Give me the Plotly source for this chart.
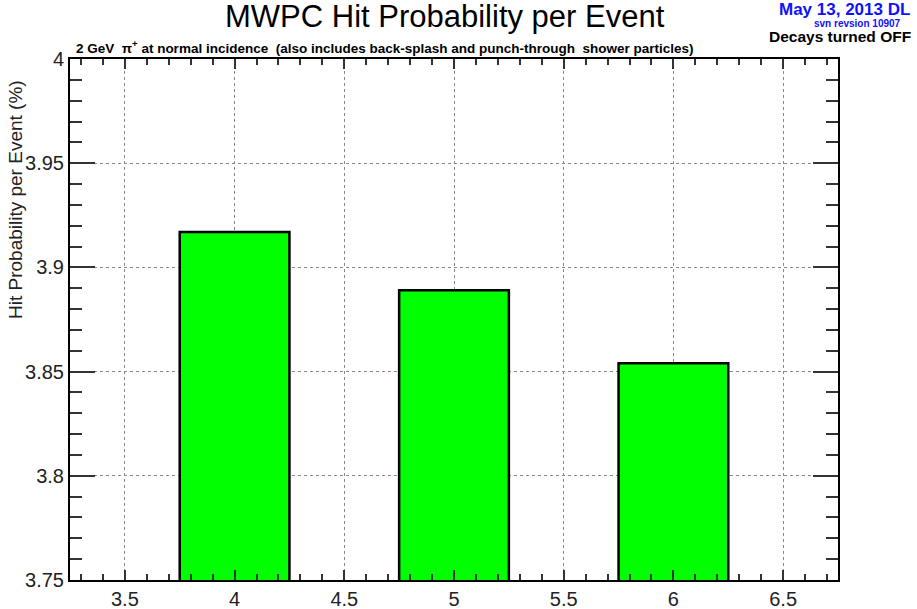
import plotly.graph_objects as go

# Hit probability per event for each configuration
x_vals = [4, 5, 6]
hit_prob = [3.917, 3.889, 3.854]

x_ticks = [3.5, 4, 4.5, 5, 5.5, 6, 6.5]
x_ticktext = ["3.5", "4", "4.5", "5", "5.5", "6", "6.5"]
y_ticks = [3.75, 3.8, 3.85, 3.9, 3.95, 4.0]
y_ticktext = ["3.75", "3.8", "3.85", "3.9", "3.95", "4"]

FONT = "Liberation Sans, Arial, sans-serif"
W, H = 917, 609
L, R, T, B = 70, 79, 59, 29
PW, PH = W - L - R, H - T - B


def px(xp, yp):
    """Convert figure pixel position into paper coordinates."""
    return (xp - L) / PW, 1 - (yp - T) / PH


fig = go.Figure()
fig.add_trace(go.Bar(
    x=x_vals, y=hit_prob, width=0.5,
    marker=dict(color="#00ff00", line=dict(color="black", width=2.5)),
    hoverinfo="x+y",
))

tick_font = dict(size=20, color="#222", family=FONT)

fig.update_layout(
    width=W, height=H,
    margin=dict(l=L, r=R, t=T, b=B, autoexpand=False),
    paper_bgcolor="white", plot_bgcolor="white",
    showlegend=False,
    font=dict(family=FONT, color="#222"),
    xaxis=dict(
        range=[3.25, 6.75], tickvals=x_ticks, ticktext=x_ticktext,
        ticks="inside", ticklen=10, tickwidth=1.5, tickcolor="#333",
        minor=dict(dtick=0.1, tick0=3.5, ticks="inside", ticklen=6, tickwidth=1.5, tickcolor="#333", showgrid=False),
        showline=True, linecolor="black", linewidth=2, mirror="allticks",
        showgrid=True, gridcolor="#888", griddash="dot", gridwidth=1,
        zeroline=False, tickfont=tick_font, automargin=False,
    ),
    yaxis=dict(
        range=[3.75, 4.0], tickvals=y_ticks, ticktext=y_ticktext,
        ticks="inside", ticklen=25, tickwidth=1.5, tickcolor="#333",
        minor=dict(dtick=0.01, tick0=3.75, ticks="inside", ticklen=12, tickwidth=1.5, tickcolor="#333", showgrid=False),
        showline=True, linecolor="black", linewidth=2, mirror="allticks",
        showgrid=True, gridcolor="#888", griddash="dot", gridwidth=1,
        zeroline=False, tickfont=tick_font, automargin=False,
    ),
)

texts = [
    # (text, x px, y px, xanchor, size, colour)
    ("MWPC Hit Probability per Event", 445, 17, "center", 31, "black"),
    ("<b>2 GeV  π<sup>+</sup> at normal incidence  (also includes back-splash and punch-through  shower particles)</b>",
     74, 47, "left", 13.5, "black"),
    ("<b>May 13, 2013 DL</b>", 912, 9, "right", 17, "#1010ff"),
    ("<b>svn revsion 10907</b>", 903, 24, "right", 10, "#1010ff"),
    ("<b>Decays turned OFF</b>", 913, 37, "right", 15.5, "black"),
]
for text, xp, yp, xa, size, col in texts:
    xx, yy = px(xp, yp)
    fig.add_annotation(text=text, x=xx, y=yy, xref="paper", yref="paper",
                       xanchor=xa, yanchor="middle", showarrow=False,
                       font=dict(size=size, color=col, family=FONT))

# Rotated y-axis title, aligned toward the top of the axis
xx, yy = px(16, 200)
fig.add_annotation(text="Hit Probability per Event (%)", x=xx, y=yy, xref="paper", yref="paper",
                   xanchor="center", yanchor="middle", textangle=-90, showarrow=False,
                   font=dict(size=19, color="#222", family=FONT))

fig.write_html("out.html")
